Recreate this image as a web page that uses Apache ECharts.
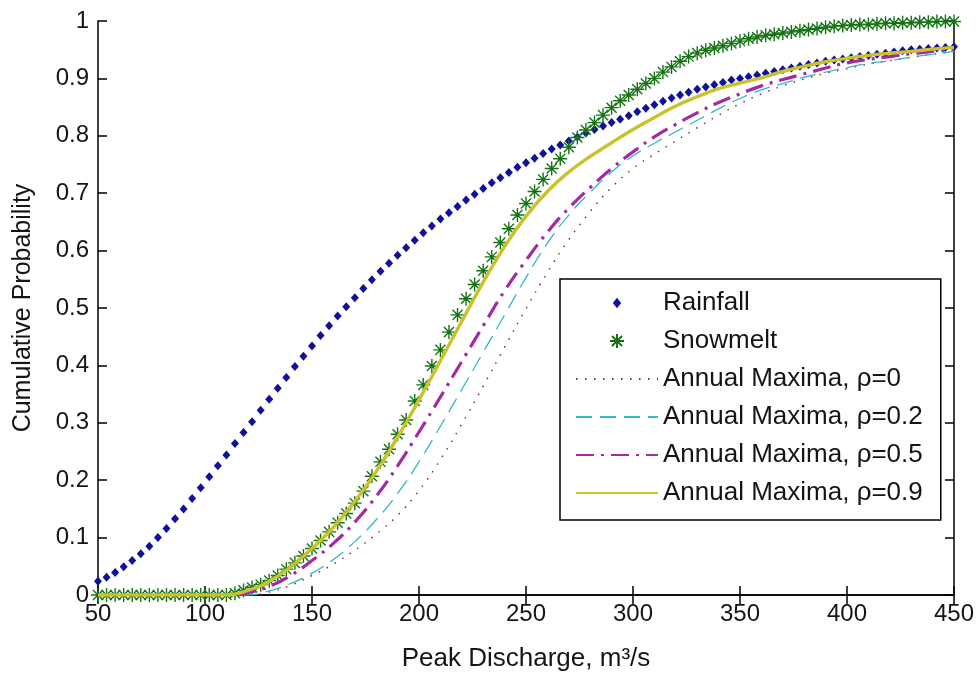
<!DOCTYPE html>
<html><head><meta charset="utf-8">
<script src="https://cdn.jsdelivr.net/npm/echarts@6/dist/echarts.min.js"></script>
<style>html,body{margin:0;padding:0;background:#fff}#c{width:979px;height:677px}</style>
</head><body><div id="c"></div>
<script>
// Fine grid (marker series)
const xFine = [50,54,58,62,66,70,74,78,82,86,90,94,98,102,106,110,114,118,122,126,130,134,138,142,146,150,154,158,162,166,170,174,178,182,186,190,194,198,202,206,210,214,218,222,226,230,234,238,242,246,250,254,258,262,266,270,274,278,282,286,290,294,298,302,306,310,314,318,322,326,330,334,338,342,346,350,354,358,362,366,370,374,378,382,386,390,394,398,402,406,410,414,418,422,426,430,434,438,442,446,450];
const rainfall = [0.024,0.031,0.039,0.049,0.060,0.072,0.085,0.100,0.116,0.133,0.150,0.168,0.187,0.206,0.225,0.244,0.264,0.283,0.302,0.322,0.341,0.360,0.379,0.398,0.416,0.434,0.452,0.469,0.486,0.502,0.518,0.534,0.549,0.564,0.578,0.592,0.605,0.618,0.631,0.643,0.655,0.666,0.677,0.688,0.698,0.708,0.718,0.727,0.736,0.745,0.753,0.761,0.769,0.777,0.784,0.791,0.798,0.805,0.811,0.817,0.823,0.829,0.835,0.842,0.848,0.854,0.860,0.866,0.871,0.876,0.881,0.885,0.889,0.893,0.897,0.900,0.903,0.906,0.909,0.912,0.915,0.918,0.921,0.924,0.927,0.930,0.932,0.934,0.936,0.938,0.940,0.942,0.944,0.946,0.948,0.950,0.951,0.952,0.953,0.954,0.955];
const snowmelt = [0,0,0,0,0,0,0,0,0,0,0,0,0,0,0,0,0.003,0.008,0.013,0.018,0.025,0.034,0.045,0.056,0.068,0.081,0.095,0.110,0.126,0.142,0.160,0.181,0.207,0.232,0.254,0.280,0.305,0.338,0.366,0.399,0.427,0.458,0.488,0.516,0.541,0.565,0.589,0.614,0.638,0.662,0.682,0.703,0.724,0.743,0.760,0.780,0.797,0.810,0.823,0.836,0.849,0.861,0.871,0.881,0.891,0.900,0.911,0.920,0.930,0.938,0.944,0.949,0.953,0.957,0.961,0.965,0.969,0.972,0.975,0.977,0.979,0.981,0.983,0.985,0.987,0.989,0.991,0.992,0.993,0.994,0.994,0.995,0.996,0.996,0.997,0.997,0.998,0.998,0.999,0.999,0.999];
// Coarse grid (line series)
const xCoarse = [50,60,70,80,90,100,110,120,130,140,150,160,170,180,190,200,210,220,230,240,250,260,270,280,290,300,310,320,330,340,350,360,370,380,390,400,410,420,430,440,450];
const amRho0  = [0,0,0,0,0,0,0,0,0.005,0.017,0.034,0.054,0.078,0.106,0.139,0.182,0.236,0.298,0.364,0.432,0.499,0.562,0.619,0.668,0.710,0.743,0.768,0.791,0.814,0.836,0.856,0.873,0.887,0.899,0.909,0.917,0.925,0.931,0.937,0.942,0.947];
const amRho02 = [0,0,0,0,0,0,0,0,0.007,0.020,0.038,0.062,0.093,0.131,0.177,0.232,0.294,0.358,0.423,0.488,0.553,0.613,0.662,0.702,0.737,0.765,0.787,0.807,0.827,0.847,0.865,0.880,0.891,0.902,0.911,0.919,0.926,0.931,0.937,0.942,0.947];
const amRho05 = [0,0,0,0,0,0,0,0.004,0.015,0.034,0.060,0.090,0.127,0.172,0.225,0.284,0.345,0.407,0.469,0.530,0.583,0.632,0.674,0.710,0.743,0.772,0.798,0.820,0.840,0.858,0.873,0.887,0.898,0.908,0.918,0.927,0.933,0.938,0.943,0.947,0.951];
const amRho09 = [0,0,0,0,0,0,0,0.008,0.024,0.049,0.081,0.118,0.163,0.215,0.275,0.340,0.408,0.477,0.545,0.607,0.660,0.703,0.737,0.764,0.788,0.811,0.832,0.852,0.868,0.882,0.892,0.901,0.912,0.921,0.929,0.935,0.940,0.944,0.947,0.951,0.954];
const seriesNames = ['Rainfall','Snowmelt','Annual Maxima, \u03c1=0','Annual Maxima, \u03c1=0.2','Annual Maxima, \u03c1=0.5','Annual Maxima, \u03c1=0.9'];
const xAxisRange = {min:50, max:450, interval:50};
const yAxisRange = {min:0, max:1, interval:0.1};
const xTitle = 'Peak Discharge, m\u00b3/s';
const yTitle = 'Cumulative Probability';

const FONT = '"Liberation Sans", Arial, sans-serif';
function pair(xs, ys){ return xs.map((x,i)=>[x, ys[i]]); }
const asterisk = 'path://M0,-1L0,1M-1,0L1,0M-0.72,-0.72L0.72,0.72M-0.72,0.72L0.72,-0.72';
const diamondLegend = 'path://M-1,-1M1,1M0,-0.75L0.6,0L0,0.75L-0.6,0Z';

const axisLine = {show:true, lineStyle:{color:'#000', width:1.5}};
const axisTick = {show:true, inside:true, length:9, lineStyle:{color:'#000', width:1.5}};
const labelStyle = {fontSize:24, color:'#151515', fontFamily:FONT};
const hideSym = {opacity:0};

const chart = echarts.init(document.getElementById('c'), null, {renderer:'canvas'});
chart.setOption({
  animation:false,
  backgroundColor:'#fff',
  grid:{left:98, right:25, top:21, bottom:80, containLabel:false},
  xAxis:[
    {type:'value', position:'bottom', min:xAxisRange.min, max:xAxisRange.max, interval:xAxisRange.interval,
     axisLine, axisTick, splitLine:{show:false},
     axisLabel:Object.assign({margin:7}, labelStyle),
     name:xTitle, nameLocation:'middle', nameGap:51,
     nameTextStyle:{fontSize:26, color:'#151515', fontFamily:FONT}},
    {type:'value', position:'top', min:xAxisRange.min, max:xAxisRange.max, interval:xAxisRange.interval,
     axisLine, axisTick, splitLine:{show:false}, axisLabel:{show:false}}
  ],
  yAxis:[
    {type:'value', position:'left', min:yAxisRange.min, max:yAxisRange.max, interval:yAxisRange.interval,
     axisLine, axisTick, splitLine:{show:false},
     axisLabel:Object.assign({margin:9}, labelStyle),
     name:yTitle, nameLocation:'middle', nameGap:62,
     nameTextStyle:{fontSize:25, color:'#151515', fontFamily:FONT}},
    {type:'value', position:'right', min:yAxisRange.min, max:yAxisRange.max, interval:yAxisRange.interval,
     axisLine, axisTick, splitLine:{show:false}, axisLabel:{show:false}}
  ],
  legend:{
    orient:'vertical', left:560, top:279,
    padding:[5,18,8,15],
    itemWidth:82, itemHeight:14, itemGap:0,
    backgroundColor:'#fff', borderColor:'#000', borderWidth:1.5, borderRadius:0,
    textStyle:{fontSize:26, color:'#151515', fontFamily:FONT, lineHeight:38},
    selectedMode:false,
    data:[
      {name:seriesNames[0], icon:diamondLegend},
      {name:seriesNames[1], icon:asterisk},
      {name:seriesNames[2], itemStyle:hideSym},
      {name:seriesNames[3], itemStyle:hideSym},
      {name:seriesNames[4], itemStyle:hideSym},
      {name:seriesNames[5], itemStyle:hideSym}
    ]
  },
  series:[
    {name:seriesNames[0], type:'scatter', data:pair(xFine, rainfall), symbol:'diamond', symbolSize:[8,9],
     itemStyle:{color:'#10109a', opacity:1}},
    {name:seriesNames[1], type:'scatter', data:pair(xFine, snowmelt), symbol:asterisk, symbolSize:14,
     itemStyle:{color:'rgba(0,0,0,0)', borderColor:'#147414', borderWidth:1.4, opacity:1}},
    {name:seriesNames[2], type:'line', data:pair(xCoarse, amRho0), symbol:'none', smooth:0.5,
     lineStyle:{color:'#8e2f2f', width:1.5, type:[1.5,7.5]}, itemStyle:{color:'#8e2f2f'}},
    {name:seriesNames[3], type:'line', data:pair(xCoarse, amRho02), symbol:'none', smooth:0.5,
     lineStyle:{color:'#35b7c4', width:1.3, type:[16,8]}, itemStyle:{color:'#35b7c4'}},
    {name:seriesNames[4], type:'line', data:pair(xCoarse, amRho05), symbol:'none', smooth:0.5,
     lineStyle:{color:'#a42aa4', width:3.2, type:[18,7,3,7]}, itemStyle:{color:'#a42aa4'}},
    {name:seriesNames[5], type:'line', data:pair(xCoarse, amRho09), symbol:'none', smooth:0.5,
     lineStyle:{color:'#c9c22b', width:3.4}, itemStyle:{color:'#c9c22b'}}
  ]
});
</script></body></html>
